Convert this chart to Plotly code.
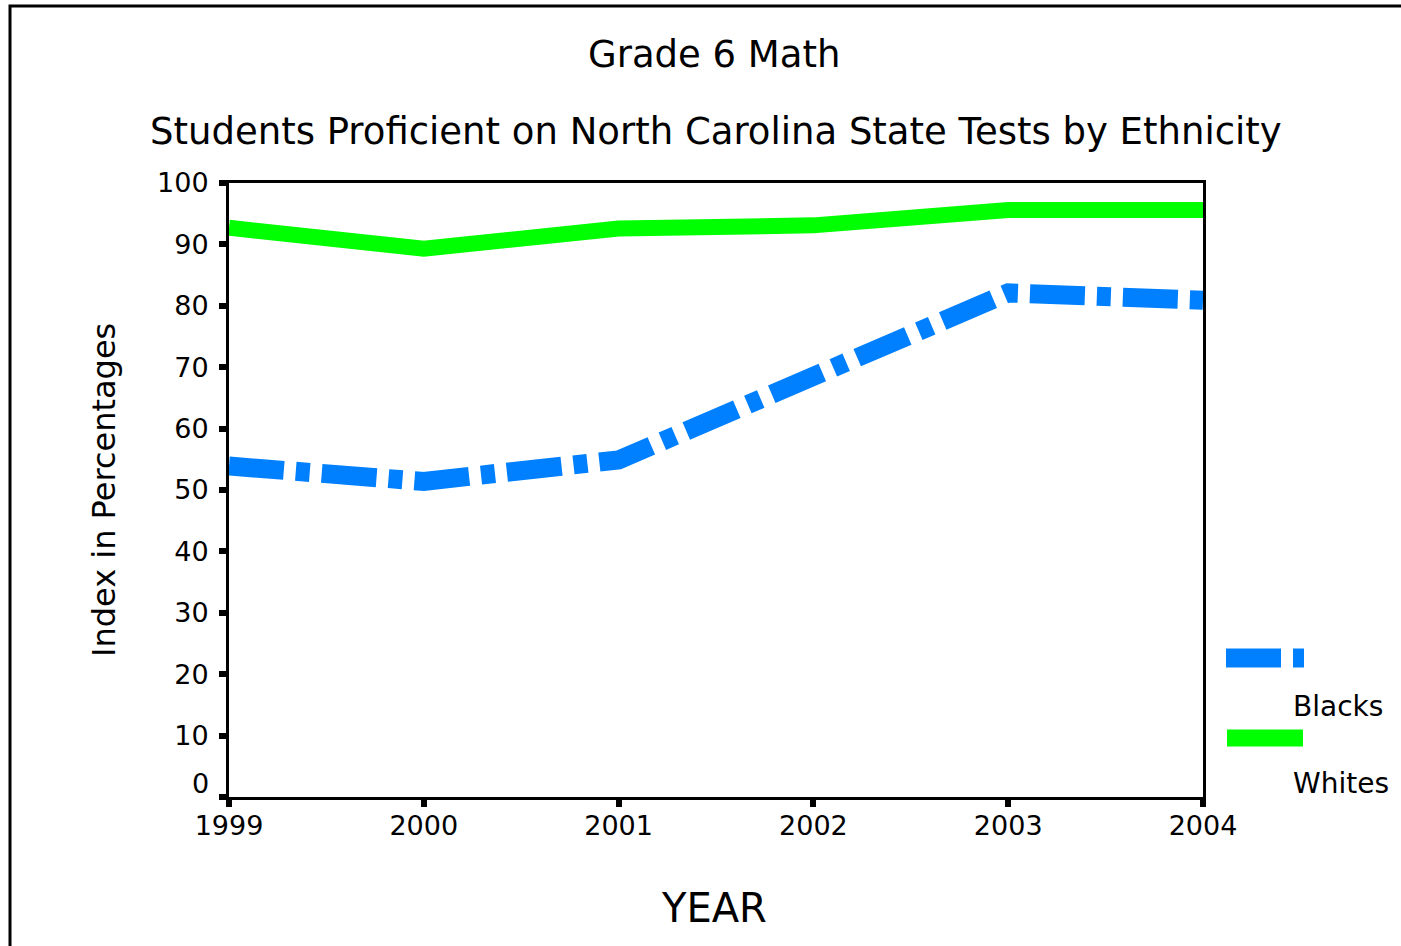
import plotly.graph_objects as go

years = [1999, 2000, 2001, 2002, 2003, 2004]
blacks = [53.9, 51.4, 54.9, 68.2, 82.1, 80.9]
whites = [92.7, 89.3, 92.6, 93.1, 95.6, 95.6]
y_ticks = [0, 10, 20, 30, 40, 50, 60, 70, 80, 90, 100]
y_ticktext = [""] + [str(v) for v in y_ticks[1:]]
series_names = ["Blacks", "Whites"]

FONT = "DejaVu Sans"
W, H = 1401, 946
L, R, T, B = 229, 1203, 183, 797

def px(x):
    return (x - L) / (R - L)

def py(y):
    return (B - y) / (B - T)

BLUE = "#0080FF"
GREEN = "#00FF00"
DASH = "55px,12px,14px,12px"

fig = go.Figure()
fig.add_trace(go.Scatter(x=years, y=blacks, mode="lines", name=series_names[0],
                         line=dict(color=BLUE, width=19, dash=DASH), hoverinfo="skip"))
fig.add_trace(go.Scatter(x=years, y=whites, mode="lines", name=series_names[1],
                         line=dict(color=GREEN, width=16), hoverinfo="skip"))

fig.update_layout(
    width=W, height=H,
    margin=dict(l=L, r=W - R, t=T, b=H - B),
    paper_bgcolor="white", plot_bgcolor="white",
    showlegend=False,
    font=dict(family=FONT, color="black"),
)
fig.update_xaxes(range=[1999, 2004], tickvals=years, ticktext=[str(y) for y in years],
                 showgrid=False, zeroline=False, showline=True, mirror=True,
                 linecolor="black", linewidth=3, ticks="outside", ticklen=7,
                 tickwidth=6, tickcolor="black", tickfont=dict(size=27, family=FONT),
                 ticklabelstandoff=-4)
fig.update_yaxes(range=[0, 100], tickvals=y_ticks, ticktext=y_ticktext,
                 showgrid=False, zeroline=False, showline=True, mirror=True,
                 linecolor="black", linewidth=3, ticks="outside", ticklen=7,
                 tickwidth=6, tickcolor="black", tickfont=dict(size=27, family=FONT),
                 ticklabelstandoff=5)

ann = []
ann.append(dict(text="Grade 6 Math", x=px(714), y=py(55), xref="paper", yref="paper",
                showarrow=False, xanchor="center", yanchor="middle",
                font=dict(size=37, family=FONT)))
ann.append(dict(text="Students Proficient on North Carolina State Tests by Ethnicity",
                x=px(716), y=py(132), xref="paper", yref="paper",
                showarrow=False, xanchor="center", yanchor="middle",
                font=dict(size=37, family=FONT)))
ann.append(dict(text="Index in Percentages", x=px(104), y=py(490), xref="paper", yref="paper",
                showarrow=False, xanchor="center", yanchor="middle", textangle=-90,
                font=dict(size=32, family=FONT)))
ann.append(dict(text="YEAR", x=px(714), y=py(908), xref="paper", yref="paper",
                showarrow=False, xanchor="center", yanchor="middle",
                font=dict(size=40, family=FONT)))
ann.append(dict(text="0", x=0, y=0, xref="paper", yref="y", showarrow=False,
                xanchor="right", yanchor="middle", xshift=-18, yshift=14,
                font=dict(size=27, family=FONT)))
ann.append(dict(text=series_names[0], x=px(1291), y=py(706), xref="paper", yref="paper",
                showarrow=False, xanchor="left", yanchor="middle",
                font=dict(size=28, family=FONT)))
ann.append(dict(text=series_names[1], x=px(1291), y=py(783), xref="paper", yref="paper",
                showarrow=False, xanchor="left", yanchor="middle",
                font=dict(size=28, family=FONT)))
fig.update_layout(annotations=ann)

shapes = []
shapes.append(dict(type="line", xref="paper", yref="paper", x0=px(1226), x1=px(1304),
                   y0=py(658), y1=py(658), line=dict(color=BLUE, width=19, dash="55px,12px,11px")))
shapes.append(dict(type="line", xref="paper", yref="paper", x0=px(1227), x1=px(1303),
                   y0=py(738), y1=py(738), line=dict(color=GREEN, width=17)))
shapes.append(dict(type="rect", xref="paper", yref="paper", x0=px(10), x1=px(1420),
                   y0=py(960), y1=py(6), line=dict(color="black", width=3),
                   fillcolor="rgba(0,0,0,0)", layer="below"))
fig.update_layout(shapes=shapes)

fig.write_html("out.html", config={"displayModeBar": False})
with open("out.html", "r", encoding="utf-8") as f:
    html = f.read()
html = html.replace("<head>", "<head><style>html,body{margin:0;padding:0;overflow:hidden;}</style>", 1)
with open("out.html", "w", encoding="utf-8") as f:
    f.write(html)
